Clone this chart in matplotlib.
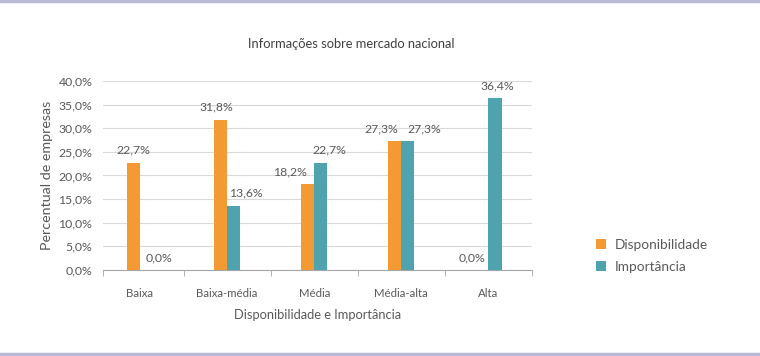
import numpy as np
import matplotlib
matplotlib.use('agg')
import matplotlib.pyplot as plt
from matplotlib.lines import Line2D
from matplotlib.transforms import offset_copy

##### Data
categories = ['Baixa', 'Baixa-média', 'Média', 'Média-alta', 'Alta']
disponibilidade = [22.7, 31.8, 18.2, 27.3, 0.0]
importancia = [0.0, 13.6, 22.7, 27.3, 36.4]
series_names = ['Disponibilidade', 'Importância']
yticks = [0, 5, 10, 15, 20, 25, 30, 35, 40]

##### Settings
plt.rcParams['font.family'] = ['Lato', 'DejaVu Sans']
txt = '#595959'
c_orange = '#F39A33'
c_teal = '#4FA3AE'

def pct(v):
    return ('%.1f%%' % v).replace('.', ',')

fig = plt.figure(figsize=(7.6, 3.56), dpi=100)
ax = fig.add_axes([0.136, 0.2416, 0.564, 0.531])

x = np.arange(len(categories))
w = 0.15
b1 = ax.bar(x - w/2, disponibilidade, w, color=c_orange, label=series_names[0], zorder=3)
b2 = ax.bar(x + w/2, importancia, w, color=c_teal, label=series_names[1], zorder=3)

# label nudges (points), like the spreadsheet placement
dx_orange = [0, -3, -13, -10, -7]
dx_teal = [9, 9, 6, 12, 2]
for bars, vals, dxs in ((b1, disponibilidade, dx_orange), (b2, importancia, dx_teal)):
    for r, v, d in zip(bars, vals, dxs):
        tr = offset_copy(ax.transData, fig=fig, x=d, y=5, units='points')
        ax.text(r.get_x() + r.get_width()/2, v, pct(v), ha='center', va='bottom',
                fontsize=8.8, color=txt, transform=tr)

ax.set_ylim(0, 40)
ax.set_xlim(-0.42, len(categories) - 0.5)
ax.set_yticks(yticks)
ax.set_yticklabels([pct(v) for v in yticks])
ax.yaxis.grid(True, color='#D9D9D9', linewidth=0.8, zorder=0)
ax.set_axisbelow(True)
ax.tick_params(axis='y', length=0, labelsize=8.8, colors=txt, pad=8)

ax.set_xticks(x)
ax.set_xticklabels(categories)
ax.set_xticks([-0.42] + list(np.arange(1, len(categories) + 1) - 0.5), minor=True)
ax.tick_params(axis='x', which='major', length=0, labelsize=8.2, colors=txt, pad=13)
ax.tick_params(axis='x', which='minor', length=4, color='#A6A6A6', direction='out')

for s in ['top', 'right', 'left']:
    ax.spines[s].set_visible(False)
ax.spines['bottom'].set_color('#A6A6A6')

ax.set_ylabel('Percentual de empresas', fontsize=10.3, color=txt, labelpad=4)
ax.set_xlabel('Disponibilidade e Importância', fontsize=9.3, color=txt, labelpad=7)
fig.text(0.462, 0.876, 'Informações sobre mercado nacional', ha='center', va='center',
         fontsize=9.3, color='#404040')

leg = fig.legend(handles=[b1, b2], labels=series_names, loc='center left',
                 bbox_to_anchor=(0.768, 0.282), frameon=False, fontsize=9.8,
                 handlelength=0.75, handleheight=0.75, handletextpad=0.6, labelspacing=0.75)
for t in leg.get_texts():
    t.set_color(txt)

# frame lines top and bottom
fig.add_artist(Line2D([0, 1], [0.997, 0.997], color='#B9B9D6', linewidth=2.5, transform=fig.transFigure))
fig.add_artist(Line2D([0, 1], [0.006, 0.006], color='#B9B9D6', linewidth=2.5, transform=fig.transFigure))

plt.savefig('out.png', dpi=100)
